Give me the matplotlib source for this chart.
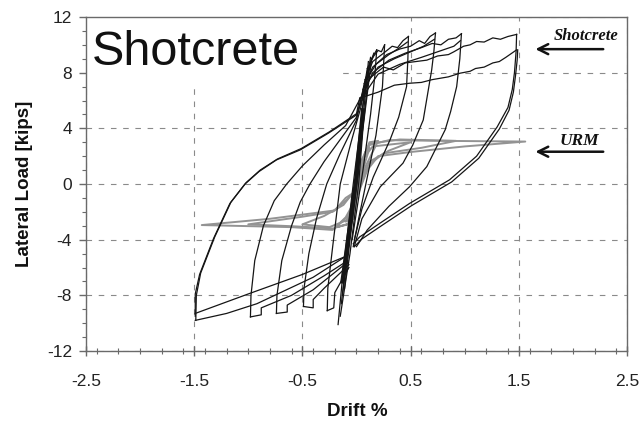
import matplotlib
matplotlib.use("Agg")
import matplotlib.pyplot as plt
from matplotlib.patches import Rectangle
from matplotlib.ticker import MultipleLocator, FixedLocator

# ---- data (drift %, lateral load kips) ----
# shotcrete: positive loading branches
pos_load_150a = [(0.05, 6.0), (0.12, 7.6), (0.25, 8.4), (0.34, 8.2), (0.45, 8.7), (0.55, 8.8),
                 (0.65, 8.9), (0.75, 9.2), (0.85, 9.3), (0.9, 9.5), (0.99, 9.9), (1.05, 10.0),
                 (1.11, 10.24), (1.18, 10.2), (1.26, 10.5), (1.33, 10.4), (1.4, 10.6), (1.48, 10.75)]
pos_load_150b = [(0.03, 6.17), (0.2, 6.6), (0.35, 7.1), (0.49, 7.24), (0.6, 7.3), (0.7, 7.5),
                 (0.85, 7.7), (0.956, 7.96), (1.05, 8.1), (1.1, 8.3), (1.18, 8.4), (1.26, 8.7),
                 (1.32, 8.8), (1.38, 9.1), (1.48, 9.64)]
pos_load_097 = [(0.06, 6.5), (0.15, 8.0), (0.3, 8.9), (0.45, 9.4), (0.6, 9.8), (0.7, 10.1),
                (0.78, 10.0), (0.85, 10.4), (0.92, 10.5), (0.97, 10.8)]
pos_load_097b = [(0.05, 6.2), (0.2, 7.9), (0.4, 8.6), (0.6, 9.1), (0.75, 9.5), (0.9, 9.9),
                 (0.96, 10.3)]
pos_load_073 = [(0.07, 7.0), (0.15, 8.4), (0.28, 9.3), (0.4, 9.7), (0.5, 9.9), (0.58, 10.3),
                (0.63, 10.1), (0.68, 10.6), (0.73, 10.85)]
pos_load_073b = [(0.06, 6.8), (0.2, 8.4), (0.35, 9.0), (0.5, 9.5), (0.62, 9.9), (0.72, 10.4)]
pos_load_048 = [(0.08, 7.5), (0.15, 8.8), (0.25, 9.4), (0.33, 9.9), (0.38, 9.8), (0.43, 10.3),
                (0.48, 10.6)]
pos_load_048b = [(0.07, 7.2), (0.18, 8.6), (0.3, 9.3), (0.4, 9.8), (0.47, 10.2)]
pos_load_026 = [(0.1, 8.3), (0.16, 9.2), (0.2, 9.6), (0.23, 9.5), (0.26, 10.0)]
pos_load_019 = [(0.09, 7.6), (0.14, 9.0), (0.187, 9.64)]

# shotcrete: unloading from positive peaks
pos_unl_150a = [(1.48, 10.75), (1.475, 9.5), (1.46, 8.0), (1.44, 6.8), (1.40, 5.5), (1.30, 4.1),
                (1.11, 2.0), (0.86, 0.3), (0.49, -1.4), (0.22, -2.8), (0.03, -3.8), (-0.03, -4.3)]
pos_unl_150b = [(1.49, 9.64), (1.485, 8.9), (1.47, 7.8), (1.45, 6.6), (1.41, 5.3), (1.32, 3.95),
                (1.13, 1.85), (0.88, 0.15), (0.51, -1.55), (0.24, -2.95), (0.05, -3.95), (-0.02, -4.5)]
pos_unl_097 = [(0.97, 10.8), (0.955, 9.0), (0.926, 7.0), (0.87, 5.2), (0.82, 3.9), (0.65, 1.25),
               (0.49, -0.2), (0.3, -1.6), (0.1, -3.3), (0.0, -4.5)]
pos_unl_073 = [(0.73, 10.85), (0.715, 9.5), (0.695, 8.2), (0.617, 4.6), (0.52, 2.8), (0.43, 1.5),
               (0.22, -0.2), (0.05, -2.5), (-0.02, -4.5)]
pos_unl_048 = [(0.48, 10.6), (0.475, 9.0), (0.463, 7.0), (0.39, 4.8), (0.31, 3.17), (0.155, 0.5),
               (0.05, -1.8), (-0.02, -4.0)]
pos_unl_026 = [(0.26, 10.0), (0.25, 8.5), (0.24, 7.0), (0.18, 3.5), (0.1, 0.5), (0.02, -2.5),
               (-0.03, -4.5)]
pos_unl_019 = [(0.187, 9.64), (0.17, 7.8), (0.13, 5.0), (0.06, 1.0), (-0.04, -4.0)]

# shotcrete: negative loading branches (with the small hooks at the peaks)
neg_load_150a = [(-0.1, -5.2), (-0.5, -6.5), (-1.0, -7.9), (-1.49, -9.3)]
neg_load_150b = [(-0.12, -5.3), (-0.4, -6.7), (-0.92, -8.6), (-1.2, -9.3), (-1.49, -9.8)]
neg_load_098 = [(-0.08, -5.5), (-0.3, -6.6), (-0.6, -8.0), (-0.88, -8.9), (-0.88, -9.4),
                (-0.98, -9.55)]
neg_load_074 = [(-0.08, -5.6), (-0.4, -7.6), (-0.64, -8.7), (-0.64, -9.2), (-0.74, -9.3)]
neg_load_049 = [(-0.07, -5.8), (-0.3, -7.5), (-0.4, -8.3), (-0.4, -8.9), (-0.49, -8.8)]
neg_load_027 = [(-0.07, -6.0), (-0.2, -7.8), (-0.21, -8.9), (-0.27, -9.1)]

# shotcrete: unloading from negative peaks
neg_unl_150a = [(-1.49, -9.5), (-1.49, -7.9), (-1.45, -6.5), (-1.32, -3.9), (-1.17, -1.4),
                (-1.03, 0.0), (-0.9, 0.9), (-0.74, 1.73), (-0.52, 2.45), (-0.26, 3.65),
                (0.0, 4.96), (0.05, 6.0)]
neg_unl_150b = [(-1.485, -9.8), (-1.48, -8.0), (-1.44, -6.4), (-1.31, -3.8), (-1.16, -1.3),
                (-1.02, 0.1), (-0.89, 1.0), (-0.73, 1.8), (-0.51, 2.55), (-0.25, 3.75),
                (0.0, 5.05), (0.03, 6.17)]
neg_unl_098 = [(-0.98, -9.55), (-0.975, -8.0), (-0.94, -5.5), (-0.86, -3.0), (-0.76, -1.2),
               (-0.645, 0.0), (-0.5, 1.3), (-0.3, 2.8), (-0.1, 4.2), (0.06, 6.5)]
neg_unl_074 = [(-0.74, -9.3), (-0.735, -8.0), (-0.69, -5.5), (-0.6, -3.0), (-0.52, -1.3),
               (-0.43, 0.0), (-0.3, 1.6), (-0.15, 3.2), (0.0, 4.8), (0.07, 7.0)]
neg_unl_049 = [(-0.49, -8.8), (-0.485, -7.5), (-0.44, -5.0), (-0.37, -2.5), (-0.275, 0.0),
               (-0.15, 2.2), (0.0, 4.6), (0.08, 7.5)]
neg_unl_027 = [(-0.27, -9.1), (-0.265, -7.5), (-0.22, -4.5), (-0.15, 0.0), (-0.05, 3.0),
               (0.04, 5.5), (0.1, 8.3)]

# shotcrete: small cycles forming the steep central band
steep_a = [(-0.17, -10.1), (-0.12, -6.0), (-0.03, 0.0), (0.05, 5.0), (0.1, 8.0), (0.16, 9.4)]
steep_b = [(0.12, 8.5), (0.08, 5.5), (0.0, 0.0), (-0.09, -5.5), (-0.13, -8.0)]
steep_c = [(-0.11, -7.5), (-0.06, -4.0), (0.01, 0.5), (0.07, 5.5), (0.11, 8.8)]
steep_d = [(0.14, 9.0), (0.06, 4.0), (0.02, 0.0), (-0.06, -5.0), (-0.15, -9.5)]
steep_e = [(-0.14, -8.6), (-0.08, -4.5), (-0.01, 0.3), (0.06, 5.8), (0.13, 9.1)]
steep_core = [(-0.13, -7.0), (-0.06, -3.0), (0.0, 0.5), (0.06, 5.3)]

# URM: pinched loops (grey)
urm_150 = [(0.0, -0.5), (0.05, 1.5), (0.12, 2.8), (0.3, 3.15), (0.8, 3.1), (1.56, 3.05),
           (1.0, 2.7), (0.5, 2.3), (0.2, 2.0), (0.1, 1.0), (0.0, -1.0), (-0.1, -2.4),
           (-0.22, -3.3), (-0.6, -3.1), (-1.43, -2.95), (-0.8, -2.5), (-0.4, -2.1),
           (-0.2, -1.9), (-0.1, -1.0), (0.0, -0.5)]
urm_100 = [(-0.02, -0.6), (0.04, 1.6), (0.12, 2.9), (0.4, 3.2), (0.92, 3.1), (0.6, 2.6),
           (0.25, 2.2), (0.1, 1.3), (0.0, -0.8), (-0.08, -2.3), (-0.2, -3.2), (-0.55, -3.05),
           (-1.0, -2.9), (-0.5, -2.35), (-0.22, -2.0), (-0.1, -1.2), (-0.02, -0.6)]
urm_050 = [(0.0, -0.3), (0.06, 1.8), (0.15, 2.7), (0.5, 3.0), (0.3, 2.4), (0.12, 1.6),
           (0.02, -0.5), (-0.09, -2.6), (-0.25, -3.1), (-0.5, -2.9), (-0.3, -2.3),
           (-0.12, -1.5), (0.0, -0.3)]
urm_020 = [(-0.05, -2.8), (0.0, -1.0), (0.05, 1.5), (0.12, 3.0), (0.2, 3.1), (0.08, 1.2),
           (-0.02, -1.5), (-0.08, -2.9), (-0.18, -3.1), (-0.05, -2.8)]
urm_010 = [(-0.03, -2.5), (0.02, 0.0), (0.08, 2.3), (0.12, 2.6), (0.04, 0.5), (-0.04, -2.0),
           (-0.1, -2.7), (-0.03, -2.5)]

shotcrete_branches = [pos_load_150a, pos_load_150b, pos_load_097, pos_load_097b, pos_load_073,
                      pos_load_073b, pos_load_048, pos_load_048b, pos_load_026, pos_load_019,
                      pos_unl_150a, pos_unl_150b, pos_unl_097, pos_unl_073, pos_unl_048,
                      pos_unl_026, pos_unl_019, neg_load_150a, neg_load_150b, neg_load_098,
                      neg_load_074, neg_load_049, neg_load_027, neg_unl_150a, neg_unl_150b,
                      neg_unl_098, neg_unl_074, neg_unl_049, neg_unl_027, steep_a, steep_b,
                      steep_c, steep_d, steep_e]
urm_loops = [urm_150, urm_100, urm_050, urm_020, urm_010]

x_ticks = [-2.5, -1.5, -0.5, 0.5, 1.5, 2.5]
y_ticks = [-12, -8, -4, 0, 4, 8, 12]

fig = plt.figure(figsize=(6.43, 4.23), dpi=100)
ax = fig.add_axes([0.1337, 0.1702, 0.8414, 0.7896])
ax.set_xlim(-2.5, 2.5)
ax.set_ylim(-12, 12)

ax.xaxis.set_major_locator(FixedLocator(x_ticks))
ax.xaxis.set_minor_locator(MultipleLocator(0.2))
ax.yaxis.set_major_locator(FixedLocator(y_ticks))
ax.yaxis.set_minor_locator(MultipleLocator(1))
ax.set_xticklabels([f"{v:g}" for v in x_ticks])
ax.set_yticklabels([f"{v:g}" for v in y_ticks])

ax.set_axisbelow(True)
ax.grid(True, which="major", color="#8a8a8a", lw=0.8, linestyle=(0, (5, 6)))

for s in ax.spines.values():
    s.set_color("#6a6a6a")
    s.set_linewidth(1.0)

ax.tick_params(axis="x", which="major", direction="inout", length=7, width=1,
               color="#6a6a6a", labelsize=12.5, pad=13)
ax.tick_params(axis="x", which="minor", direction="inout", length=4, width=0.8, color="#6a6a6a")
ax.tick_params(axis="y", which="major", direction="out", length=5, width=1,
               color="#6a6a6a", labelsize=12.5, pad=5)
ax.tick_params(axis="y", which="minor", direction="out", length=3, width=0.8, color="#6a6a6a")
for lab in ax.get_xticklabels() + ax.get_yticklabels():
    lab.set_fontfamily(["Liberation Sans", "DejaVu Sans"])
    lab.set_color("#222")

# white patch behind the big title (covers gridlines)
ax.add_patch(Rectangle((-2.5, 6.9), 2.35, 5.1, facecolor="white", edgecolor="none", zorder=1))

for loop in urm_loops:
    xs, ys = zip(*loop)
    ax.plot(xs, ys, color="#939393", lw=1.4, solid_joinstyle="round", zorder=2)

for br in shotcrete_branches:
    xs, ys = zip(*br)
    ax.plot(xs, ys, color="#151515", lw=0.9, zorder=3)
xs, ys = zip(*steep_core)
ax.plot(xs, ys, color="#151515", lw=3.0, zorder=3)

ax.text(-2.445, 8.56, "Shotcrete", fontsize=35, family=["Liberation Sans", "DejaVu Sans"],
        va="baseline", ha="left", color="#111", zorder=4)

serif = ["Liberation Serif", "DejaVu Serif"]
ax.text(2.12, 10.67, "Shotcrete", fontsize=12, family=serif, style="italic", weight="bold",
        ha="center", va="center", color="#111", zorder=4)
ax.text(2.06, 3.12, "URM", fontsize=12.5, family=serif, style="italic", weight="bold",
        ha="center", va="center", color="#111", zorder=4)
for yy in (9.69, 2.32):
    ax.annotate("", xy=(1.628, yy), xytext=(2.306, yy), annotation_clip=False,
                arrowprops=dict(arrowstyle="->", lw=1.8, color="#111", mutation_scale=18))

sans = ["Liberation Sans", "DejaVu Sans"]
fig.text(357 / 643, 1 - 411 / 423, "Drift %", fontsize=13.5, weight="bold", family=sans,
         ha="center", va="center", color="#111")
fig.text(24.5 / 643, 1 - 184 / 423, "Lateral Load [kips]", fontsize=13.5, weight="bold",
         family=sans, rotation=90, ha="center", va="center", color="#111")

fig.savefig("out.png", dpi=100)
